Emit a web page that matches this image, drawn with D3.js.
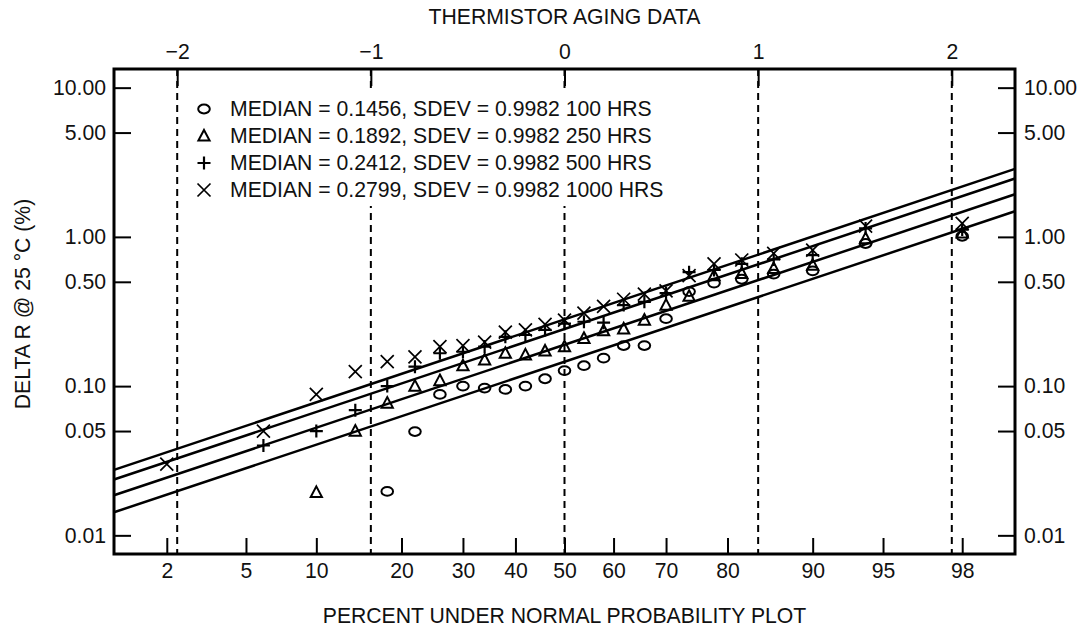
<!DOCTYPE html>
<html>
<head>
<meta charset="utf-8">
<script src="https://cdn.jsdelivr.net/npm/d3@7"></script>
<style>
  html, body { margin: 0; padding: 0; background: #fff; }
  svg { display: block; font-family: "Liberation Sans", Arial, sans-serif; }
</style>
</head>
<body>
<div id="graph"></div>
<script>
// Positions de tracé (i - 0.5)/25, en %
const percents = [2, 6, 10, 14, 18, 22, 26, 30, 34, 38, 42, 46, 50, 54, 58, 62, 66, 70, 74, 78, 82, 86, 90, 94, 98];

// Valeurs (null = pas de point)
const hrs100 = [null, null, null, null, 0.0197, 0.0496, 0.088, 0.100, 0.097, 0.095, 0.100, 0.112, 0.127, 0.137, 0.154, 0.187, 0.187, 0.283, 0.43, 0.49, 0.52, 0.563, 0.592, 0.903, 1.01];
const hrs250 = [null, null, 0.0194, 0.050, 0.077, 0.100, 0.109, 0.137, 0.150, 0.166, 0.162, 0.172, 0.184, 0.209, 0.235, 0.242, 0.277, 0.349, 0.400, 0.55, 0.57, 0.615, 0.647, 0.975, 1.064];
const hrs500 = [null, 0.040, 0.050, 0.069, 0.100, 0.135, 0.166, 0.170, 0.184, 0.214, 0.220, 0.238, 0.262, 0.270, 0.266, 0.349, 0.367, 0.42, 0.58, 0.60, 0.66, 0.706, 0.754, 1.14, 1.12];
const hrs1000 = [0.030, 0.050, 0.088, 0.125, 0.146, 0.157, 0.184, 0.187, 0.197, 0.230, 0.238, 0.259, 0.277, 0.308, 0.342, 0.382, 0.414, 0.435, 0.55, 0.66, 0.70, 0.775, 0.815, 1.18, 1.23];

const hours = [100, 250, 500, 1000];
const medians = [0.1456, 0.1892, 0.2412, 0.2799];
const sdevs = [0.9982, 0.9982, 0.9982, 0.9982];
const markers = ["circle", "triangle", "plus", "cross"];

const zTicks = [-2, -1, 0, 1, 2];
const pctTicks = [2, 5, 10, 20, 30, 40, 50, 60, 70, 80, 90, 95, 98];
const yTicks = [0.01, 0.05, 0.10, 0.50, 1.00, 5.00, 10.00];

// Dimensions
const width = 1085;
const height = 630;
const marginTop = 69;
const marginRight = 70;
const marginBottom = 76;
const marginLeft = 114;
const fontSize = 21.2;

// Quantile de la loi normale (approximation d'Acklam)
function probit(p) {
  const a = [-3.969683028665376e+01, 2.209460984245205e+02, -2.759285104469687e+02, 1.383577518672690e+02, -3.066479806614716e+01, 2.506628277459239e+00];
  const b = [-5.447609879822406e+01, 1.615858368580409e+02, -1.556989798598866e+02, 6.680131188771972e+01, -1.328068155288572e+01];
  const c = [-7.784894002430293e-03, -3.223964580411365e-01, -2.400758277161838e+00, -2.549732539343734e+00, 4.374664141464968e+00, 2.938163982698783e+00];
  const d = [7.784695709041462e-03, 3.224671290700398e-01, 2.445134137142996e+00, 3.754408661907416e+00];
  const pLow = 0.02425;
  let q, r;
  if (p < pLow) {
    q = Math.sqrt(-2 * Math.log(p));
    return (((((c[0]*q+c[1])*q+c[2])*q+c[3])*q+c[4])*q+c[5]) / ((((d[0]*q+d[1])*q+d[2])*q+d[3])*q+1);
  }
  if (p <= 1 - pLow) {
    q = p - 0.5; r = q * q;
    return (((((a[0]*r+a[1])*r+a[2])*r+a[3])*r+a[4])*r+a[5])*q / (((((b[0]*r+b[1])*r+b[2])*r+b[3])*r+b[4])*r+1);
  }
  q = Math.sqrt(-2 * Math.log(1 - p));
  return -(((((c[0]*q+c[1])*q+c[2])*q+c[3])*q+c[4])*q+c[5]) / ((((d[0]*q+d[1])*q+d[2])*q+d[3])*q+1);
}

// Echelle x en unités normales (1 % .. 99 %), échelle y logarithmique
const x = d3.scaleLinear()
    .domain([probit(0.01), probit(0.99)])
    .range([marginLeft, width - marginRight]);

const y = d3.scaleLog()
    .domain([Math.pow(10, -2.125), Math.pow(10, 1.125)])
    .range([height - marginBottom, marginTop]);

const xp = p => x(probit(p / 100));

const series = [hrs100, hrs250, hrs500, hrs1000].map((vals, i) => ({
  hours: hours[i],
  median: medians[i],
  sdev: sdevs[i],
  marker: markers[i],
  points: percents.map((p, j) => ({ p, v: vals[j] })).filter(d => d.v != null)
}));

const svg = d3.create("svg")
    .attr("width", width)
    .attr("height", height);

// Lignes pointillées verticales aux unités normales
svg.append("g")
  .selectAll("line")
  .data(zTicks)
  .join("line")
    .attr("x1", d => x(d))
    .attr("x2", d => x(d))
    .attr("y1", marginTop)
    .attr("y2", height - marginBottom)
    .attr("stroke", "#000")
    .attr("stroke-width", 2)
    .attr("stroke-dasharray", "7,5");

// Fond de la légende
svg.append("rect")
    .attr("x", 188)
    .attr("y", 92)
    .attr("width", 492)
    .attr("height", 114)
    .attr("fill", "#fff");

// Droites d'ajustement : ln(v) = ln(median) + sdev * z
const line = d3.line()
    .x(d => x(d.z))
    .y(d => y(d.v));

svg.append("g")
  .selectAll("path")
  .data(series)
  .join("path")
    .attr("fill", "none")
    .attr("stroke", "#000")
    .attr("stroke-width", 2.5)
    .attr("d", s => line(x.domain().map(z => ({ z, v: s.median * Math.exp(s.sdev * z) }))));

// Symboles
function drawMarker(g, type) {
  if (type === "circle") {
    g.append("ellipse").attr("rx", 5.8).attr("ry", 4.4)
      .attr("fill", "none").attr("stroke", "#000").attr("stroke-width", 2);
  } else if (type === "triangle") {
    g.append("path").attr("d", "M0,-6L5.6,4.6L-5.6,4.6Z")
      .attr("fill", "none").attr("stroke", "#000").attr("stroke-width", 2);
  } else if (type === "plus") {
    g.append("path").attr("d", "M-6.5,0H6.5M0,-6.5V6.5")
      .attr("fill", "none").attr("stroke", "#000").attr("stroke-width", 2.2);
  } else {
    g.append("path").attr("d", "M-6.5,-6.5L6.5,6.5M-6.5,6.5L6.5,-6.5")
      .attr("fill", "none").attr("stroke", "#000").attr("stroke-width", 1.7);
  }
}

series.forEach(s => {
  svg.append("g")
    .selectAll("g")
    .data(s.points)
    .join("g")
      .attr("transform", d => `translate(${xp(d.p)},${y(d.v)})`)
      .each(function() { drawMarker(d3.select(this), s.marker); });
});

// Légende
const legend = svg.append("g")
  .selectAll("g")
  .data(series)
  .join("g")
    .attr("transform", (d, i) => `translate(204,${109 + i * 27})`);

legend.each(function(s) { drawMarker(d3.select(this), s.marker); });

legend.append("text")
    .attr("x", 26)
    .attr("dy", "0.35em")
    .attr("font-size", fontSize)
    .attr("fill", "#111")
    .text(s => `MEDIAN = ${s.median.toFixed(4)}, SDEV = ${s.sdev.toFixed(4)} ${s.hours} HRS`);

// Axes
function styleAxis(g) {
  g.select(".domain").remove();
  g.selectAll(".tick line").attr("stroke", "#000").attr("stroke-width", 2);
  g.selectAll(".tick text").attr("fill", "#111");
  g.attr("font-size", fontSize).attr("font-family", null);
}

svg.append("g")
    .attr("transform", `translate(0,${marginTop})`)
    .call(d3.axisTop(x).tickValues(zTicks)
      .tickFormat(d => d < 0 ? "\u2212" + Math.abs(d) : String(d))
      .tickSize(-17).tickPadding(10))
    .call(styleAxis);

svg.append("g")
    .attr("transform", `translate(0,${height - marginBottom})`)
    .call(d3.axisBottom(x).tickValues(pctTicks.map(p => probit(p / 100)))
      .tickFormat((d, i) => pctTicks[i])
      .tickSize(-16).tickPadding(9))
    .call(styleAxis);

svg.append("g")
    .attr("transform", `translate(${marginLeft},0)`)
    .call(d3.axisLeft(y).tickValues(yTicks).tickFormat(d3.format(".2f"))
      .tickSize(-17).tickPadding(8))
    .call(styleAxis);

svg.append("g")
    .attr("transform", `translate(${width - marginRight},0)`)
    .call(d3.axisRight(y).tickValues(yTicks).tickFormat(d3.format(".2f"))
      .tickSize(-17).tickPadding(9))
    .call(styleAxis);

// Cadre
svg.append("rect")
    .attr("x", marginLeft)
    .attr("y", marginTop)
    .attr("width", width - marginLeft - marginRight)
    .attr("height", height - marginTop - marginBottom)
    .attr("fill", "none")
    .attr("stroke", "#000")
    .attr("stroke-width", 3);

// Titres
const cx = (marginLeft + width - marginRight) / 2;

svg.append("text")
    .attr("x", cx)
    .attr("y", 24)
    .attr("text-anchor", "middle")
    .attr("font-size", fontSize)
    .attr("fill", "#111")
    .text("THERMISTOR AGING DATA");

svg.append("text")
    .attr("x", cx)
    .attr("y", 623)
    .attr("text-anchor", "middle")
    .attr("font-size", fontSize)
    .attr("fill", "#111")
    .text("PERCENT UNDER NORMAL PROBABILITY PLOT");

svg.append("text")
    .attr("transform", "translate(30,304) rotate(-90)")
    .attr("text-anchor", "middle")
    .attr("font-size", fontSize)
    .attr("fill", "#111")
    .text("DELTA R @ 25 \u00b0C (%)");

document.getElementById("graph").appendChild(svg.node());
</script>
</body>
</html>
